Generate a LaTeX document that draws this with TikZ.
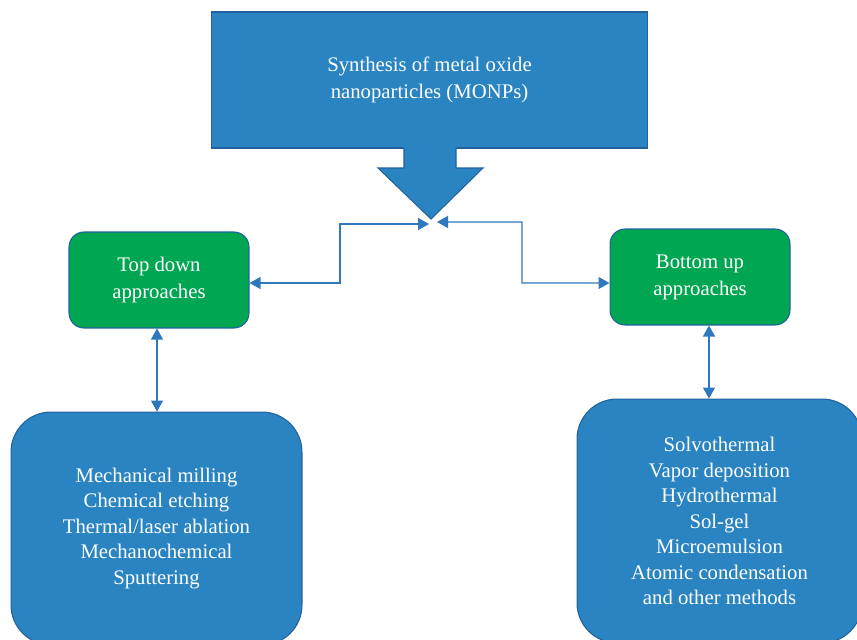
\documentclass[tikz,border=0pt]{standalone}
\usepackage{fontspec}
\setmainfont{Liberation Serif}
\usepackage{tikz}
\usetikzlibrary{arrows.meta, positioning, calc}

\definecolor{boxblue}{RGB}{42,132,193}
\definecolor{edgeblue}{RGB}{33,98,158}
\definecolor{apgreen}{RGB}{0,166,81}
\definecolor{linkblue}{RGB}{46,120,190}

\begin{document}
\begin{tikzpicture}[
    x=0.02cm, y=-0.02cm,
    >={Triangle[length=0.22cm, width=0.24cm]},
    font=\fontsize{11.8}{15.3}\selectfont,
    mainbox/.style={rectangle, fill=boxblue, text=white, align=center, minimum width=8.74cm, minimum height=2.72cm},
    approach/.style={draw=edgeblue, line width=0.6pt, fill=apgreen, text=white, rectangle, rounded corners=0.3cm, align=center, minimum width=3.6cm, minimum height=1.92cm},
    methods/.style={draw=edgeblue, line width=0.6pt, fill=boxblue, text=white, rectangle, rounded corners=0.8cm, align=center, font=\fontsize{11.8}{14.5}\selectfont},
    link/.style={<->, draw=linkblue, line width=0.75pt}
]

    % --- Frame ---
    \clip (0,0) rectangle (857,639);

    % --- Main box and its arrow ---
    \node[mainbox, draw=edgeblue, line width=0.6pt] (synth) at (429.5,80) {};
    \coordinate (tip) at (431,219);
    \fill[boxblue] (404,146) -- (404,168) -- (378,168) -- (tip) -- (483,168) -- (456,168) -- (456,146) -- cycle;
    \draw[edgeblue, line width=0.6pt] (404,148) -- (404,168) -- (378,168) -- (tip) -- (483,168) -- (456,168) -- (456,148);
    \node[text=white, align=center] (synthtext) at (synth) {Synthesis of metal oxide\\ nanoparticles (MONPs)};

    % --- Approaches ---
    \node[approach] (topdown) at (159,280) {Top down\\ approaches};
    \node[approach] (bottomup) at (700,277) {Bottom up\\ approaches};

    % --- Methods ---
    \node[methods, minimum width=5.82cm, minimum height=4.66cm] (topmethods) at (156.5,528.5) {
        Mechanical milling\\
        Chemical etching\\
        Thermal/laser ablation\\
        Mechanochemical\\
        Sputtering
    };
    \node[methods, minimum width=5.7cm, minimum height=4.88cm] (bottommethods) at (719.5,521) {
        Solvothermal\\
        Vapor deposition\\
        Hydrothermal\\
        Sol-gel\\
        Microemulsion\\
        Atomic condensation\\
        and other methods
    };

    % --- Connectors ---
    \coordinate (tipL) at (429,224);
    \coordinate (tipR) at (437,222);
    \draw[link] ([yshift=-0.06cm]topdown.east) -| (340,224) -- (tipL);
    \draw[link] (tipR) -| (522,283) -- ([yshift=-0.12cm]bottomup.west);
    \draw[link] ([xshift=-0.04cm]topdown.south) -- ([xshift=-0.04cm]topdown.south |- topmethods.north);
    \draw[link] ([xshift=0.18cm]bottomup.south) -- ([xshift=0.18cm]bottomup.south |- bottommethods.north);

\end{tikzpicture}
\end{document}
